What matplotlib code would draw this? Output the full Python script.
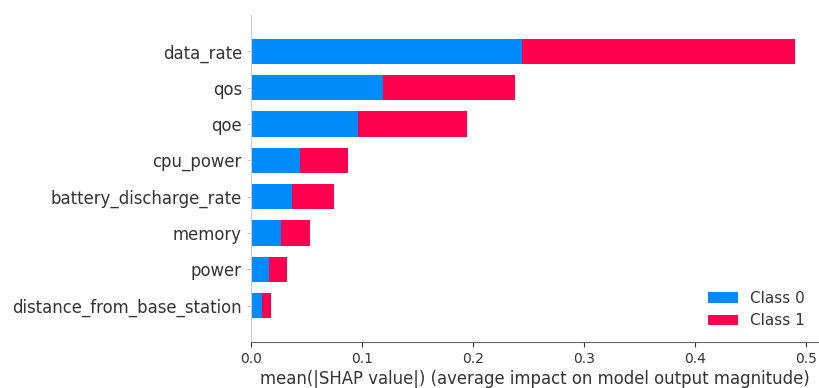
import matplotlib.pyplot as plt
import numpy as np

## mean |SHAP| per feature, split by class (stacked bars)
features = ['data_rate', 'qos', 'qoe', 'cpu_power', 'battery_discharge_rate',
            'memory', 'power', 'distance_from_base_station']
class0 = [0.244, 0.119, 0.096, 0.044, 0.037, 0.027, 0.016, 0.010]
class1 = [0.246, 0.119, 0.099, 0.043, 0.038, 0.026, 0.016, 0.008]
class_names = ['Class 0', 'Class 1']
colors = ['#008bfb', '#ff0051']

fig = plt.figure(figsize=(8.19, 3.88), dpi=100)
ax = fig.add_axes([0.3065, 0.1186, 0.6935, 0.843])

y = np.arange(len(features))[::-1]
ax.barh(y, class0, height=0.7, color=colors[0], label=class_names[0])
ax.barh(y, class1, height=0.7, left=class0, color=colors[1], label=class_names[1])

ax.set_yticks(y)
ax.set_yticklabels(features, fontsize=11.9, color='#333333')
ax.set_ylim(-1.0, 8.0)
ax.set_xlim(0, 0.512)
ax.set_xticks([0.0, 0.1, 0.2, 0.3, 0.4, 0.5])
ax.tick_params(axis='x', labelsize=10, colors='#333333')
ax.tick_params(axis='y', length=3, color='#cccccc')
ax.set_xlabel('mean(|SHAP value|) (average impact on model output magnitude)',
              fontsize=11.9, color='#333333', labelpad=3)

ax.spines['top'].set_visible(False)
ax.spines['right'].set_visible(False)
ax.spines['left'].set_color('#cccccc')
ax.spines['bottom'].set_color('#666666')

ax.legend(frameon=False, loc='lower right', fontsize=11, handlelength=2.0,
          labelcolor='#333333', bbox_to_anchor=(1.0, 0.0))

plt.savefig('out.png', dpi=100)
